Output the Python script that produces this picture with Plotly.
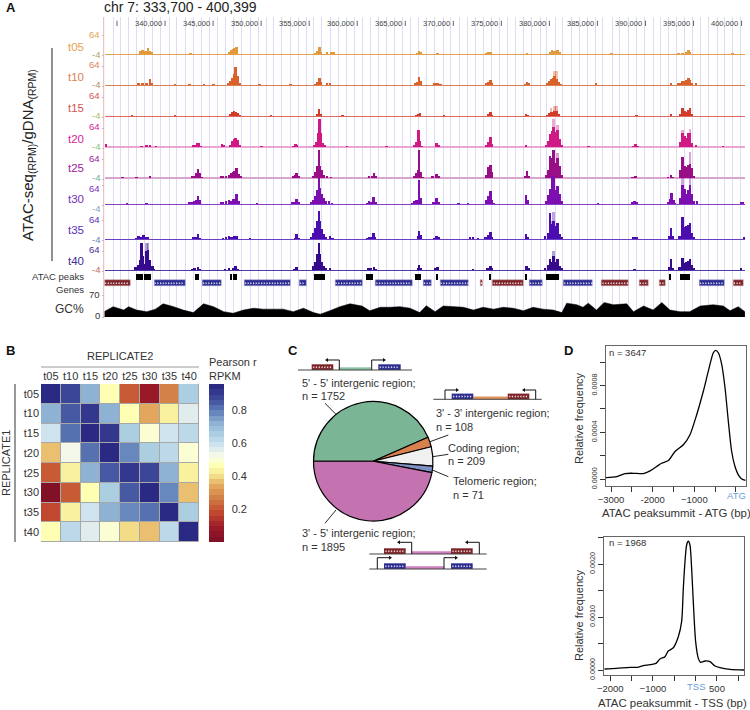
import numpy as np
import plotly.graph_objects as go
from plotly.colors import sample_colorscale

# ---------- Panel A data (kb along chr 7, RPM) ----------
KB_RANGE = [333.7, 400.399]
TRACKS = ["t05", "t10", "t15", "t20", "t25", "t30", "t35", "t40"]
RULER_KB = [335, 340, 345, 350, 355, 360, 365, 370, 375, 380, 385, 390, 395, 400]

t05_kb = [337.4,337.6,337.85,338.05,338.2,338.4,338.6,342.6,346.6,346.8,347.0,347.2,347.4,355.6,355.8,356.0,356.2,356.8,357.2,357.5,366.2,366.4,366.6,368.3,373.4,373.6,373.8,377.6,380.0,380.2,380.4,380.6,380.8,381.0,386.4,393.4,393.8,394.2,394.4,394.6,399.0]
t05_rpm = [10,14,10,10,20,10,7,3,7,14,17,20,24,3,10,24,7,5,7,5,3,9,5,3,3,7,7,3,7,12,10,9,12,5,2,3,3,5,14,7,3]
t05_light_kb = []
t05_light_rpm = []

t10_kb = [337.2,337.6,338.0,338.37,338.6,341,342.5,344,345,346.5,346.7,346.9,347.1,347.3,347.5,347.7,349.8,353,355.6,355.8,356.0,356.2,356.8,357.1,366.0,366.2,366.4,366.6,368.0,368.3,368.6,373.4,373.6,373.8,374.0,377.4,377.6,377.8,379.7,379.9,380.1,380.3,380.5,380.7,380.9,381.1,384.8,392.6,393.4,393.6,393.8,394.0,394.2,394.4,394.6,394.8,395.2]
t10_rpm = [7,7,7,20,5,3,3,3,3,7,14,24,37,61,31,7,3,3,3,10,24,10,7,7,7,10,27,14,5,7,3,5,10,17,7,3,10,7,7,14,20,24,31,20,10,3,7,7,5,7,14,14,17,24,17,7,7]
t10_light_kb = [380.5,380.7]
t10_light_rpm = [48,48]

t15_kb = [336.5,341,346.7,346.9,347.1,347.3,347.5,347.7,351.0,355.8,355.95,356.15,358.4,366.1,366.3,366.5,369.0,373.6,373.8,374.0,377.5,377.7,379.7,379.9,380.1,380.3,380.5,380.7,380.9,389,392.6,393.6,393.8,394.0,394.2,394.4,394.6,394.8]
t15_rpm = [3,3,5,14,17,14,10,3,3,7,24,7,3,3,7,10,3,5,14,3,7,3,3,10,14,14,17,17,7,3,5,7,27,17,14,20,27,7]
t15_light_kb = [380.1,380.5,380.7]
t15_light_rpm = [27,34,34]

t20_kb = [333.8,337.5,338.0,338.4,339,342.9,343.1,343.3,343.5,343.7,345.9,346.1,346.7,346.9,347.1,347.3,347.5,347.7,350,353.3,353.5,353.7,355.5,355.7,355.85,356.0,356.15,356.35,356.55,358.9,363,365.9,366.1,366.3,366.5,366.7,368.2,368.4,373.4,373.6,373.8,374,377.5,379.6,379.8,380,380.2,380.4,380.6,380.8,381,381.2,384,388.7,388.9,389.1,393.6,393.8,394,394.2,394.4,394.6,394.8,395.2,398]
t20_rpm = [10,3,7,5,3,5,7,14,14,3,10,7,7,20,27,31,24,5,3,3,10,5,5,17,48,95,48,14,5,3,3,7,17,58,20,3,14,5,7,17,34,10,5,7,20,44,54,68,51,58,27,7,3,3,10,3,17,48,37,31,48,48,14,5,3]
t20_light_kb = [380.4,380.8,393.8,394.6]
t20_light_rpm = [95,75,58,61]

t25_kb = [335.5,337,338.4,342.8,343,343.2,343.4,343.6,343.8,345.8,346.0,346.3,346.6,346.8,347,347.2,347.4,347.6,347.8,353.3,353.5,353.65,353.85,355.4,355.6,355.8,355.95,356.1,356.3,356.5,356.8,357.2,361.2,361.5,361.7,361.9,365.9,366.1,366.25,366.4,366.55,366.75,367.8,368.2,368.4,373.4,373.6,373.8,374,377.4,377.6,377.8,379.6,379.8,380,380.2,380.4,380.6,380.8,381,381.2,388.6,388.9,392.3,392.6,392.8,393.6,393.8,394,394.2,394.4,394.6,394.8,395]
t25_rpm = [3,3,7,5,7,17,31,17,3,5,5,7,10,17,20,24,34,14,5,7,10,17,7,7,20,41,95,41,27,10,7,3,5,7,17,5,7,17,27,95,20,3,5,14,7,10,37,44,20,7,24,7,10,27,75,68,95,51,68,41,10,3,7,3,9,3,27,71,41,37,44,48,34,7]
t25_light_kb = [380.8,394.6]
t25_light_rpm = [85,88]

t30_kb = [336,338,342.5,342.8,343,343.2,343.4,343.6,345.8,346,346.3,346.6,346.8,347,347.2,347.4,347.6,349.5,353.2,353.4,353.65,353.85,355.2,355.4,355.6,355.8,355.95,356.1,356.3,356.5,356.7,357,357.3,361,361.2,361.4,361.65,361.85,365.7,365.9,366.1,366.25,366.4,366.55,367.9,368.2,368.4,370.5,371.5,373.4,373.6,373.8,374,374.2,377.5,377.7,379.6,379.8,380,380.2,380.4,380.6,380.8,381,381.2,385,388.6,388.8,389,392.3,392.5,392.65,392.85,393,393.6,393.8,394,394.2,394.4,394.6,394.8,395,395.3,399.9,400.1]
t30_rpm = [3,3,5,7,10,14,27,14,7,7,10,14,10,17,17,34,10,3,5,7,17,7,7,14,27,48,88,54,34,20,10,10,3,3,10,7,24,7,3,10,14,14,82,20,5,20,7,3,3,14,27,44,14,3,31,14,10,31,51,95,95,48,61,34,10,3,7,10,7,7,17,37,14,3,20,65,51,34,48,65,34,10,10,5,7]
t30_light_kb = [393.8,394.6]
t30_light_rpm = [88,95]

t35_kb = [337,337.2,337.5,337.7,337.9,338.2,342.9,343.1,343.4,343.6,346,346.3,346.6,346.8,347,347.2,347.4,348.8,353.5,353.65,353.85,355.2,355.4,355.6,355.8,355.95,356.1,356.3,356.5,356.7,357.1,357.4,361,361.2,361.4,361.65,361.8,366.3,366.4,366.55,368,368.2,368.4,371.7,372,372.5,373.3,373.6,373.8,374,377.5,377.7,379.5,379.8,380,380.2,380.4,380.6,380.8,381,381.2,388.7,389,392.4,392.6,392.8,393.5,393.8,394,394.2,394.4,394.6,394.8,395,400.2]
t35_rpm = [3,10,7,14,7,5,5,7,17,3,3,7,10,7,7,9,10,3,3,17,3,7,20,37,61,95,61,34,17,7,10,3,3,7,7,22,5,10,27,14,3,10,5,7,7,3,7,14,24,7,17,7,10,20,88,51,61,44,54,17,7,5,5,10,37,10,10,75,41,44,48,54,20,7,7]
t35_light_kb = [380,380.2,380.4]
t35_light_rpm = [88,61,92]

t40_kb = [336.88,337.12,337.33,337.5,337.68,337.85,338.02,338.2,338.37,338.62,338.78,342.8,343,343.4,343.6,346.2,346.6,347,347.3,347.5,353.4,353.65,355.4,355.6,355.8,355.95,356.1,356.3,356.5,356.7,357.1,361.1,361.4,361.7,361.9,366.3,366.4,366.55,368.1,368.3,372,373.5,373.8,374,377.55,377.75,379.5,379.8,380,380.2,380.4,380.6,380.8,381,381.2,388.8,392.4,392.6,392.8,393.5,393.8,394,394.2,394.4,394.6,394.8,395,399.9]
t40_rpm = [10,17,34,92,48,20,65,68,34,14,3,3,7,10,3,3,5,7,15,3,3,9,14,27,54,92,54,27,14,7,7,7,5,9,3,7,17,7,7,9,3,5,14,7,14,5,7,17,37,27,48,27,37,14,7,3,10,37,7,10,41,24,27,31,37,17,7,5]
t40_light_kb = [338.02,338.2,380.4]
t40_light_rpm = [92,92,65]

TRACK_DATA = [(t05_kb,t05_rpm,t05_light_kb,t05_light_rpm),(t10_kb,t10_rpm,t10_light_kb,t10_light_rpm),
              (t15_kb,t15_rpm,t15_light_kb,t15_light_rpm),(t20_kb,t20_rpm,t20_light_kb,t20_light_rpm),
              (t25_kb,t25_rpm,t25_light_kb,t25_light_rpm),(t30_kb,t30_rpm,t30_light_kb,t30_light_rpm),
              (t35_kb,t35_rpm,t35_light_kb,t35_light_rpm),(t40_kb,t40_rpm,t40_light_kb,t40_light_rpm)]

peak_start = [336.88,337.81,343.09,346.69,347.04,355.50,360.88,365.94,368.10,373.64,377.46,379.62,392.48,393.59]
peak_end   = [337.68,338.51,343.47,346.90,347.39,356.55,361.61,366.54,368.34,373.85,377.53,380.93,392.65,394.63]

gene_red_start = [333.7,372.81,374.13,385.47,389.35,391.41,399.14]
gene_red_end   = [336.36,373.06,377.28,388.21,390.29,392.13,400.15]
gene_blue_start = [338.86,343.88,348.25,353.97,357.69,361.93,366.88,368.62,377.91,381.49,395.6]
gene_blue_end   = [342.08,345.83,353.08,354.67,360.5,365.73,367.68,371.63,379.26,384.5,398.24]

gc_kb = [333.65,334.6,335.7,336.2,337.05,338.1,339.0,339.8,340.9,341.9,342.95,344.0,345.05,346.1,347.1,348.15,349.2,350.2,351.3,352.3,353.35,354.4,355.45,356.15,357.15,358.2,359.25,360.5,361.3,362.4,
         363.4,364.45,365.5,366.5,367.2,368.1,368.95,370.0,371.05,372.1,373.1,374.2,375.2,376.25,377.3,378.3,379.35,380.4,381.3,381.8,382.85,383.5,384.05,384.9,385.7,386.65,388.05,388.75,389.8,390.8,391.7,392.55,393.6,394.6,395.7,397.05,398.1,398.8,399.65,400.35]
gc_pct = [17,33,22,33,22,17,25,42,33,22,14,42,33,17,12,22,28,25,25,25,17,28,14,9,20,33,42,35,20,31,
          31,33,28,14,36,17,35,33,31,22,31,25,31,28,20,31,25,22,14,44,39,31,44,22,46,39,42,17,35,22,46,22,17,17,35,39,35,20,33,17]

grid_px = [113.3,120.7,128.3,136.7,144.3,152.7,160.7,169,176.7,185,193.3,201,209.3,217.3,225.3,233.3,241.7,250,258.3,266,
           273.3,281.7,290,298.3,306,313.3,321.7,330,338.3,346,354,362.7,370,378.3,386,394,402.3,410,418.3,426.7,434,
           443.3,450.7,459,467,475,483,491.7,499,507.7,515,523.3,531.7,540,546.7,555,563,571.7,579.3,587.7,596,603,
           612.7,620,628.3,636.7,645,653.3,660.7,668.7,676.7,685,692.7,700.7,709,717.3,725,732.7,740.7]

# ---------- Panel B data ----------
HEAT_LABELS = ["t05", "t10", "t15", "t20", "t25", "t30", "t35", "t40"]
r_t05 = [.95,.88,.72,.47,.20,.08,.28,.64]
r_t10 = [.72,.85,.92,.72,.47,.33,.43,.56]
r_t15 = [.60,.80,.97,.90,.66,.50,.60,.61]
r_t20 = [.36,.54,.81,.97,.77,.66,.62,.48]
r_t25 = [.20,.43,.72,.85,.90,.87,.72,.43]
r_t30 = [.03,.20,.47,.67,.85,.97,.79,.36]
r_t35 = [.17,.43,.60,.71,.77,.82,.97,.67]
r_t40 = [.47,.61,.55,.50,.41,.36,.63,.96]

# ---------- Panel C data ----------
pie_labels = ["5' - 5' intergenic region", "3' - 3' intergenic region", "Coding region", "Telomeric region", "3' - 5' intergenic region"]
pie_counts = [1752, 108, 209, 71, 1895]
pie_colors = ["#7ab595", "#d9804f", "#f0f0f0", "#7f90c4", "#c472b0"]

# ---------- Panel D data ----------
atg_x = [-3119,-2863,-2663,-2464,-2224,-2063,-1904,-1784,-1624,-1464,-1264,-1104,-943,-784,-664,-544,-488,-424,-344,-264,-184,-104,-24,56,136,232]
atg_y = [.000014,.000023,.000049,.000051,.000049,.000071,.000109,.000137,.00016,.000237,.000294,.00038,.000551,.000751,.000923,.00108,.0011,.00108,.000983,.000783,.000494,.000237,.000109,.000037,.000003,-.000009]
tss_x = [-2141,-1852,-1539,-1367,-1227,-1070,-930,-836,-719,-641,-523,-406,-328,-289,-250,-211,-172,-133,-94,-55,0,63,117,219,336,453,570,805,1133]
tss_y = [.000019,.000031,.00005,.00005,.000082,.0001,.000126,.000208,.000252,.000358,.000421,.000629,.000912,.00154,.00204,.00236,.00243,.00236,.00192,.00129,.000535,.00022,.000145,.00017,.000157,.000075,.000044,.000013,0]

# ---------- layout helpers (page pixels -> paper) ----------
W, H = 750, 710
FONT = "Liberation Sans"
TXT = "#333333"
def X(p): return p / W
def Y(p): return 1 - p / H
def xd(a, b): return [X(a), X(b)]
def yd(top, bot): return [Y(bot), Y(top)]
def px2kb(p): return 340 + (p - 165) * 0.10406

annos, shapes = [], []
def T(x, y, s, size=10, color=TXT, anchor="left", bold=False, angle=0):
    annos.append(dict(x=X(x), y=Y(y), xref="paper", yref="paper", text=f"<b>{s}</b>" if bold else s, showarrow=False,
                      xanchor=anchor, yanchor="middle", textangle=angle, borderpad=0, borderwidth=0,
                      font=dict(family=FONT, size=size, color=color)))
def L(pts, color="#222222", width=1.0):
    path = "M" + " L".join(f"{X(a):.5f},{Y(b):.5f}" for a, b in pts)
    shapes.append(dict(type="path", path=path, xref="paper", yref="paper", line=dict(color=color, width=width), layer="above"))
def R(x0, y0, x1, y1, color, layer="below"):
    shapes.append(dict(type="rect", x0=X(x0), x1=X(x1), y0=Y(y0), y1=Y(y1), xref="paper", yref="paper",
                       fillcolor=color, line=dict(width=0), layer=layer))
def ARROW(x, y0, y1, xtip, lw=1.0):
    L([(x, y0), (x, y1), (xtip, y1)], "#111111", lw)
    d = 3 if xtip > x else -3
    shapes.append(dict(type="path", path=f"M{X(xtip):.5f},{Y(y1-2):.5f} L{X(xtip+d):.5f},{Y(y1):.5f} L{X(xtip):.5f},{Y(y1+2):.5f} Z",
                       xref="paper", yref="paper", fillcolor="#111111", line=dict(width=0), layer="above"))

fig = go.Figure()
layout_axes = {}

# ---------- Panel A ----------
PLOT_L, PLOT_R = 104.5, 745.4
TOP, BOT = 17, 317
layout_axes["xaxis"] = dict(domain=xd(PLOT_L, PLOT_R), range=KB_RANGE, anchor="y", tickmode="array",
                            tickvals=[px2kb(p) for p in grid_px], showticklabels=False, ticks="",
                            showgrid=True, gridcolor="#dcdcf6", gridwidth=1, zeroline=False, showline=False)
layout_axes["yaxis"] = dict(domain=yd(TOP, BOT), range=[0, 1], anchor="x", visible=False)
fig.add_trace(go.Scatter(x=KB_RANGE, y=[0, 0], mode="lines", line=dict(width=0), xaxis="x", yaxis="y", hoverinfo="skip"))
layout_axes["xaxis2"] = dict(domain=xd(PLOT_L, PLOT_R), range=KB_RANGE, anchor="y2", visible=False, showgrid=False)

BASE = [54, 85, 116.3, 147, 178, 204.3, 239.3, 270.3]
COL = ["#e09a3a", "#d9622b", "#d33a2a", "#cf1a86", "#990d86", "#7d0fb0", "#4b0cb0", "#360a8c"]
ZERO = ["#e5a050", "#d98055", "#e06a60", "#eba6d4", "#d8a4d0", "#8a3fc8", "#6a3fc8", "#5038a8"]
ZW = [1, 1, 1.2, 2, 2, 1, 1, 1]
LAB = ["#e3a34f", "#e08058", "#d9534f", "#d6229a", "#a0209b", "#7a2dbb", "#5a30bb", "#4a2a9a"]
NEG = ["#b0a070", "#b09060", "#b0c070", "#88c088", "#70b090", "#7f9fc0", "#6a7fc0", "#c06868"]
Y64 = [34, 65, 95.5, 126.5, 158, 188, 219.5, 250]
YN4 = [54, 84.5, 115.5, 146.5, 177, 208, 239, 270]
YT = [47, 77, 108, 139, 168, 199, 230, 261]
RPM_PER_PX = 3.4

for i, name in enumerate(TRACKS):
    ax = f"y{i+2}"
    top, bot = BASE[i] - 30, BASE[i] + 2
    layout_axes[f"yaxis{i+2}"] = dict(domain=yd(top, bot), range=[-2 * RPM_PER_PX, 30 * RPM_PER_PX], anchor="x2",
                                      showgrid=False, showticklabels=False, tickmode="array", tickvals=[-4, 64], ticks="outside",
                                      ticklen=2, tickcolor="#b8b8b8", tickwidth=0.7, zeroline=True, zerolinecolor=ZERO[i],
                                      zerolinewidth=ZW[i], showline=False)
    kb, rpm, lkb, lrpm = TRACK_DATA[i]
    if lkb:
        fig.add_trace(go.Bar(x=lkb, y=lrpm, width=0.26, xaxis="x2", yaxis=ax, marker=dict(color=COL[i], opacity=0.38, line=dict(width=0)), hoverinfo="skip"))
    fig.add_trace(go.Bar(x=kb, y=rpm, width=0.26, xaxis="x2", yaxis=ax, marker=dict(color=COL[i], line=dict(width=0)), hoverinfo="skip"))
    T(84, YT[i], name, 11.5, LAB[i], "right")
    T(100, Y64[i], "64", 9.5, LAB[i], "right")
    T(100, YN4[i], "-4", 9.5, NEG[i], "right")

# peaks and genes
layout_axes["yaxis10"] = dict(domain=yd(272, 288), range=[16, 0], anchor="x2", visible=False)
W_P, W_G = 6, 6
fig.add_trace(go.Bar(base=peak_start, x=[e - s for s, e in zip(peak_start, peak_end)], y=[4.5] * len(peak_start), width=W_P, orientation="h",
                     xaxis="x2", yaxis="y10", marker=dict(color="#000000", line=dict(width=0)), hoverinfo="skip"))
fig.add_trace(go.Bar(base=gene_red_start, x=[e - s for s, e in zip(gene_red_start, gene_red_end)], y=[11.3] * len(gene_red_start), width=W_G, orientation="h",
                     xaxis="x2", yaxis="y10", marker=dict(color="#7d2226", line=dict(color="#c9a0a0", width=0.5)), hoverinfo="skip"))
fig.add_trace(go.Bar(base=gene_blue_start, x=[e - s for s, e in zip(gene_blue_start, gene_blue_end)], y=[11.3] * len(gene_blue_start), width=W_G, orientation="h",
                     xaxis="x2", yaxis="y10", marker=dict(color="#2b2b90", line=dict(color="#a0a0d8", width=0.5)), hoverinfo="skip"))
for starts, ends, sym in ((gene_red_start, gene_red_end, "triangle-left"), (gene_blue_start, gene_blue_end, "triangle-right")):
    xs = [v for s, e in zip(starts, ends) for v in np.arange(s + 0.12, e - 0.05, 0.28)]
    fig.add_trace(go.Scatter(x=xs, y=[11.3] * len(xs), mode="markers", xaxis="x2", yaxis="y10",
                             marker=dict(symbol=sym, size=2.2, color="#ffffff", opacity=0.85, line=dict(width=0)), hoverinfo="skip"))

# GC
layout_axes["yaxis11"] = dict(domain=yd(295, 317), range=[0, 70], anchor="x2", showgrid=False, showticklabels=False, zeroline=False,
                              tickmode="array", tickvals=[0, 70], ticks="outside", ticklen=2, tickcolor="#b8b8b8", tickwidth=0.7)
fig.add_trace(go.Scatter(x=gc_kb, y=gc_pct, mode="lines", fill="tozeroy", fillcolor="#000000", line=dict(color="#000000", width=0.5),
                         xaxis="x2", yaxis="y11", hoverinfo="skip"))

# ruler
for kb in RULER_KB:
    shapes.append(dict(type="line", xref="x", yref="paper", x0=kb, x1=kb, y0=Y(20.7), y1=Y(26), line=dict(color="#555555", width=0.9), layer="above"))
    if kb > 335:
        annos.append(dict(x=kb, y=Y(24), xref="x", yref="paper", text=f"{kb*1000:,}", showarrow=False, xanchor="right", xshift=-1.5,
                          yanchor="middle", font=dict(family=FONT, size=7.5, color="#444444")))
L([(103.7, TOP), (103.7, BOT)], "#eab4b4", 1)

T(6, 8, "A", 13, "#111111", bold=True)
T(104, 7, "chr 7: 333,700 - 400,399", 14, "#222222")
T(29, 155, "ATAC-seq<sub>(RPM)</sub>/gDNA<sub>(RPM)</sub>", 15, "#222222", "center", angle=-90)
L([(52, 48), (52, 261)], "#222222", 1)
T(84, 277, "ATAC peaks", 9.5, TXT, "right")
T(84, 289, "Genes", 9.5, TXT, "right")
T(100, 294, "70", 9.5, TXT, "right")
T(84, 309, "GC%", 12, TXT, "right")
T(100, 315, "0", 9.5, TXT, "right")

# ---------- Panel B ----------
stops = [[0, "#7a0f26"], [.09, "#9a1a28"], [.18, "#c0452e"], [.27, "#d07a42"], [.36, "#e4ab5f"], [.43, "#f5e890"], [.48, "#ffffb0"],
         [.54, "#f9fbea"], [.61, "#d2e5ef"], [.69, "#a9cce0"], [.76, "#8aaed2"], [.83, "#5f7fb8"], [.90, "#3f4d9c"], [1, "#26237f"]]
NB = 30
samp = sample_colorscale(stops, [(k + .5) / NB for k in range(NB)])
scale = []
for k, c in enumerate(samp):
    scale += [[k / NB, c], [(k + 1) / NB, c]]
R(41, 384, 199, 542, "#a8a8a8")
fig.add_trace(go.Heatmap(z=[r_t05, r_t10, r_t15, r_t20, r_t25, r_t30, r_t35, r_t40], x=HEAT_LABELS, y=HEAT_LABELS, xaxis="x3", yaxis="y12",
                         colorscale=scale, zmin=0.0, zmax=0.96, xgap=1, ygap=1, hoverinfo="skip",
                         colorbar=dict(x=X(209), xanchor="left", xpad=0, y=Y(463), yanchor="middle", ypad=0, len=158, lenmode="pixels", thickness=15,
                                       tickmode="array", tickvals=[.2, .4, .6, .8], ticks="outside", ticklen=6, tickcolor="rgba(0,0,0,0)", outlinewidth=0,
                                       tickfont=dict(family=FONT, size=11, color=TXT))))
layout_axes["xaxis3"] = dict(domain=xd(41, 199), anchor="y12", side="top", ticks="", showgrid=False, zeroline=False, tickfont=dict(family=FONT, size=11, color=TXT), ticklabelstandoff=1)
layout_axes["yaxis12"] = dict(domain=yd(384, 542), anchor="x3", autorange="reversed", ticks="", showgrid=False, zeroline=False, tickfont=dict(family=FONT, size=11, color=TXT), ticklabelstandoff=1)
T(6, 350, "B", 13, "#111111", bold=True)
T(120, 356, "REPLICATE2", 11, TXT, "center")
L([(41, 367), (199, 367)], "#999999", 1.2)
L([(15, 384), (15, 542)], "#333333", 1)
T(6, 463, "REPLICATE1", 11, TXT, "center", angle=-90)
T(209, 362, "Pearson r", 11, TXT)
T(209, 376, "RPKM", 11, TXT)

# ---------- Panel C ----------
fig.add_trace(go.Pie(values=pie_counts, labels=pie_labels, sort=False, direction="clockwise", rotation=270,
                     domain=dict(x=xd(313.5, 433), y=yd(401.5, 521)), marker=dict(colors=pie_colors, line=dict(color="#000000", width=1.2)),
                     textinfo="none", hoverinfo="skip", showlegend=False))
T(288, 350, "C", 13, "#111111", bold=True)
for x0, y0, t1, t2 in ((302, 382.7, "5' - 5' intergenic region;", "n = 1752"), (435.7, 413, "3' - 3' intergenic region;", "n = 108"),
                       (448.3, 447.7, "Coding region;", "n = 209"), (453.3, 481, "Telomeric region;", "n = 71"),
                       (302, 533.3, "3' - 5' intergenic region;", "n = 1895")):
    T(x0, y0, t1, 11, TXT)
    T(x0, y0 + 13.5, t2, 11, TXT)
for a, b, c, d in ((325, 403.3, 336, 414.3), (430, 441.7, 448.3, 435), (432.7, 456.7, 448.3, 454.3), (432.3, 470, 448.3, 476.7), (336, 510, 325, 523.3)):
    L([(a, b), (c, d)], "#111111", 0.9)

RED, BLUE, GRN, ORG, PUR = "#7d2226", "#2b2b90", "#8cc0a4", "#e0925f", "#cf80bf"
chev_r, chev_b = [], []
def gene(x0, x1, yb, col, store):
    R(x0, yb - 5.7, x1, yb, col)
    for v in np.arange(x0 + 2, x1 - 1, 2.8):
        store.append((v, yb - 2.85))
# schematic 1
L([(298, 370), (412, 370)], "#444444", 1)
R(339, 367.3, 371, 370, GRN)
gene(311.7, 333.3, 370, RED, chev_r); gene(378.3, 400.7, 370, BLUE, chev_b)
ARROW(339.3, 370, 360, 328); ARROW(371.7, 370, 360, 383)
# schematic 2
L([(433.3, 399.3), (541.7, 399.3)], "#444444", 1)
R(473.3, 396.6, 507.7, 399.3, ORG)
gene(451.7, 473.3, 399.3, BLUE, chev_b); gene(507.7, 529.3, 399.3, RED, chev_r)
ARROW(445, 399.3, 390, 456); ARROW(535.7, 399.3, 390, 525)
# schematic 3
L([(369.3, 554), (486.7, 554)], "#444444", 1)
R(411.7, 551.3, 451, 554, PUR)
gene(384, 405.7, 554, RED, chev_r); gene(451, 472.7, 554, RED, chev_r)
ARROW(411.7, 554, 542.3, 400); ARROW(479.3, 554, 542.3, 468)
L([(369.3, 569), (486.7, 569)], "#444444", 1)
R(405.7, 566.3, 444, 569, PUR)
gene(384, 405.7, 569, BLUE, chev_b); gene(451, 472.7, 569, BLUE, chev_b)
ARROW(377.3, 569, 557.7, 389); ARROW(444, 569, 557.7, 455)

layout_axes["xaxis6"] = dict(domain=[0, 1], range=[0, W], anchor="y15", visible=False)
layout_axes["yaxis15"] = dict(domain=[0, 1], range=[H, 0], anchor="x6", visible=False)
for pts, sym in ((chev_r, "triangle-left"), (chev_b, "triangle-right")):
    fig.add_trace(go.Scatter(x=[p[0] for p in pts], y=[p[1] for p in pts], mode="markers", xaxis="x6", yaxis="y15",
                             marker=dict(symbol=sym, size=2.2, color="#ffffff", opacity=0.85, line=dict(width=0)), hoverinfo="skip"))

# ---------- Panel D ----------
def density(x, y, xa, ya, xrange, yrange, xdom, ydom, xticks, xtext, xminor, yticks, ytext, yminor):
    fig.add_trace(go.Scatter(x=x, y=y, mode="lines", line=dict(color="#000000", width=1.3, shape="spline", smoothing=0.7), xaxis=xa, yaxis=ya, hoverinfo="skip"))
    n = xa[1:]; m = ya[1:]
    layout_axes[f"xaxis{n}"] = dict(domain=xdom, range=xrange, anchor=ya, showgrid=False, zeroline=False, showline=True, mirror=True, linecolor="#666666", linewidth=1,
                                    ticks="outside", ticklen=5, tickcolor="#333333", tickmode="array", tickvals=xticks, ticktext=xtext,
                                    minor=dict(tickmode="array", tickvals=xminor, ticks="outside", ticklen=5, tickcolor="#333333", showgrid=False),
                                    tickfont=dict(family=FONT, size=9.5, color=TXT))
    layout_axes[f"yaxis{m}"] = dict(domain=ydom, range=yrange, anchor=xa, showgrid=False, zeroline=False, showline=True, mirror=True, linecolor="#666666", linewidth=1,
                                    ticks="outside", ticklen=5, tickcolor="#333333", tickmode="array", tickvals=yticks, ticktext=ytext, tickangle=-90,
                                    minor=dict(tickmode="array", tickvals=yminor, ticks="outside", ticklen=5, tickcolor="#333333", showgrid=False),
                                    tickfont=dict(family=FONT, size=7.2, color=TXT))
density(atg_x, atg_y, "x4", "y13", [-3120, 233], [-0.000055, 0.00114], xd(606, 745.7), yd(345.7, 485.7),
        [-3000, -2000, -1000], ["−3000", "-2000", "−1000"], [-2500, -1500, -500, 0],
        [0, .0004, .0008], ["0.0000", "0.0004", "0.0008"], [.0002, .0006, .001])
density(tss_x, tss_y, "x5", "y14", [-2140, 1133], [-0.000094, 0.002516], xd(604.3, 744), yd(536.7, 675),
        [-2000, -1000, 500], ["−2000", "−1000", "500"], [-1500, -500, 0, 1000],
        [0, .001, .002], ["0.0000", "0.0010", "0.0020"], [.0005, .0015, .0025])
T(564, 350, "D", 13, "#111111", bold=True)
T(609, 352, "n = 3647", 9.5, TXT)
T(609, 542, "n = 1968", 9.5, TXT)
T(579, 418, "Relative frequency", 11, TXT, "center", angle=-90)
T(579, 615, "Relative frequency", 11, TXT, "center", angle=-90)
T(676, 513, "ATAC peaksummit - ATG (bp)", 11.4, TXT, "center")
T(672, 703, "ATAC peaksummit - TSS (bp)", 11.4, TXT, "center")
T(736, 496, "ATG", 9.5, "#6aa0d8", "center")
T(695.7, 686, "TSS", 9.5, "#6aa0d8", "center")

fig.update_layout(width=W, height=H, margin=dict(l=0, r=0, t=0, b=0, pad=0, autoexpand=False), autosize=False, paper_bgcolor="#ffffff", plot_bgcolor="rgba(0,0,0,0)",
                  showlegend=False, barmode="overlay", bargap=0, hovermode=False, annotations=annos, shapes=shapes,
                  font=dict(family=FONT, color=TXT), **layout_axes)
PAGE_FIX = ("var g=document.getElementById('{plot_id}');"
            "g.style.position='absolute';g.style.left='0px';g.style.top='0px';"
            "document.body.style.margin='0';document.documentElement.style.margin='0';"
            "document.documentElement.style.overflow='hidden';document.body.style.overflow='hidden';")
fig.write_html("out.html", config=dict(displayModeBar=False), post_script=PAGE_FIX)
